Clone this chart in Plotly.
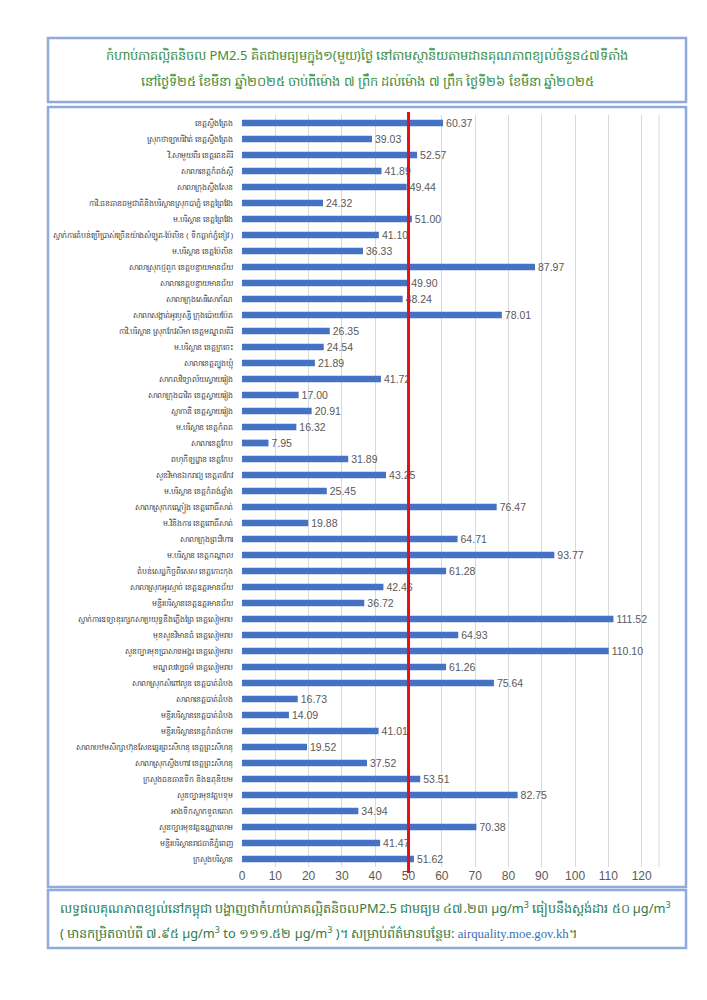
import plotly.graph_objects as go

stations = [
    "ខេត្តស្ទឹងត្រែង",
    "ស្រុកថាឡាបរិវ៉ាត់ ខេត្តស្ទឹងត្រែង",
    "វិ.សាមួយពីរ ខេត្តរតនគិរី",
    "សាលាខេត្តកំពង់ស្ពឺ",
    "សាលាក្រុងស្ទឹងសែន",
    "កាវិ.ធនធានធម្មជាតិនិងបរិស្ថានស្រុកបាភ្នំ ខេត្តព្រៃវែង",
    "ម.បរិស្ថាន ខេត្តព្រៃវែង",
    "ស្នាក់ការតំបន់ប្រើប្រាស់ច្រើនយ៉ាងសំឡូត-ប៉ៃលិន ( ទឹកធ្លាក់ភ្នំខៀវ )",
    "ម.បរិស្ថាន ខេត្តប៉ៃលិន",
    "សាលាស្រុកថ្មពួក ខេត្តបន្ទាយមានជ័យ",
    "សាលាខេត្តបន្ទាយមានជ័យ",
    "សាលាក្រុងសេរីសោភ័ណ",
    "សាលាសង្កាត់អូរឫស្សី ក្រុងប៉ោយប៉ែត",
    "កាវិ.បរិស្ថាន ស្រុកកែវសីមា ខេត្តមណ្ឌលគិរី",
    "ម.បរិស្ថាន ខេត្តក្រចេះ",
    "សាលាខេត្តត្បូងឃ្មុំ",
    "សាកលវិទ្យាល័យស្វាយរៀង",
    "សាលាក្រុងបាវិត ខេត្តស្វាយរៀង",
    "ស្លាកានី ខេត្តស្វាយរៀង",
    "ម.បរិស្ថាន ខេត្តកំពត",
    "សាលាខេត្តកែប",
    "ពហុកីឡដ្ឋាន ខេត្តកែប",
    "សួនវិមានឯករាជ្យ ខេត្តតាកែវ",
    "ម.បរិស្ថាន ខេត្តកំពង់ឆ្នាំង",
    "សាលាស្រុកកណ្តៀង ខេត្តពោធិ៍សាត់",
    "ម.វិនិងការ ខេត្តពោធិ៍សាត់",
    "សាលាក្រុងព្រះវិហារ",
    "ម.បរិស្ថាន ខេត្តកណ្តាល",
    "តំបន់សេដ្ឋកិច្ចពិសេស ខេត្តកោះកុង",
    "សាលាស្រុកអូរស្មាច់ ខេត្តឧត្តរមានជ័យ",
    "មន្ទីរបរិស្ថានខេត្តឧត្តរមានជ័យ",
    "ស្នាក់ការឧទ្យានុរក្សកសាប្រយុទ្ធនឹងភ្លើងព្រៃ ខេត្តសៀមរាប",
    "មុខសួនវិមានធំ ខេត្តសៀមរាប",
    "សួនច្បារមុខប្រាសាទអង្គរ ខេត្តសៀមរាប",
    "មណ្ឌលវប្បធម៌ ខេត្តសៀមរាប",
    "សាលាស្រុកសំពៅលូន ខេត្តបាត់ដំបង",
    "សាលាខេត្តបាត់ដំបង",
    "មន្ទីរបរិស្ថានខេត្តបាត់ដំបង",
    "មន្ទីរបរិស្ថានខេត្តកំពង់ចាម",
    "សាលាបឋមសិក្សាហ៊ុនសែនឆ្នេរព្រះសីហនុ ខេត្តព្រះសីហនុ",
    "សាលាស្រុកស្ទឹងហាវ ខេត្តព្រះសីហនុ",
    "ក្រសួងធនធានទឹក និងឧតុនិយម",
    "សួនច្បារមុខវត្តបទុម",
    "អាងទឹកស្លាកទួលគោក",
    "សួនច្បារមុខវត្តឧណ្ណាលោម",
    "មន្ទីរបរិស្ថានរាជធានីភ្នំពេញ",
    "ក្រសួងបរិស្ថាន",
]

pm25 = [
    60.37, 39.03, 52.57, 41.89, 49.44, 24.32, 51.00, 41.10, 36.33, 87.97,
    49.90, 48.24, 78.01, 26.35, 24.54, 21.89, 41.72, 17.00, 20.91, 16.32,
    7.95, 31.89, 43.25, 25.45, 76.47, 19.88, 64.71, 93.77, 61.28, 42.46,
    36.72, 111.52, 64.93, 110.10, 61.26, 75.64, 16.73, 14.09, 41.01, 19.52,
    37.52, 53.51, 82.75, 34.94, 70.38, 41.47, 51.62,
]

standard = 50
x_ticks = [0, 10, 20, 30, 40, 50, 60, 70, 80, 90, 100, 110, 120]

title_lines = [
    "កំហាប់ភាគល្អិតនិចល PM2.5 គិតជាមធ្យមក្នុង១(មួយ)ថ្ងៃ នៅតាមស្ថានីយតាមដានគុណភាពខ្យល់ចំនួន៤៧ទីតាំង",
    "នៅថ្ងៃទី២៥ ខែមីនា ឆ្នាំ២០២៥ ចាប់ពីម៉ោង ៧ ព្រឹក ដល់ម៉ោង ៧ ព្រឹក ថ្ងៃទី២៦ ខែមីនា ឆ្នាំ២០២៥",
]
footer_lines = [
    "លទ្ធផលគុណភាពខ្យល់នៅកម្ពុជា បង្ហាញថាកំហាប់ភាគល្អិតនិចលPM2.5 ជាមធ្យម ៤៧.២៣ µg/m<sup>3</sup> ធៀបនឹងស្តង់ដារ ៥០ µg/m<sup>3</sup>",
    "( មានកម្រិតចាប់ពី ៧.៩៥ µg/m<sup>3</sup> to ១១១.៥២ µg/m<sup>3</sup> )។ សម្រាប់ព័ត៌មានបន្ថែម: "
    "<span style='font-family:Liberation Serif;color:#3a6fb0'>airquality.moe.gov.kh</span>។",
]

# page has an 8px body margin; figure is placed at (8, 8)
OFF = 8
W, H = 707 - OFF, 1000 - OFF
L, R, T, B = 242, 659, 115, 867  # plot area in page pixels


def px(x):
    return (x - L) / (R - L)


def py(y):
    return (B - y) / (B - T)


fig = go.Figure()
fig.add_trace(go.Bar(
    x=pm25, y=stations, orientation="h",
    marker=dict(color="#4472C4", line=dict(width=0)),
    text=[f"{v:.2f}" for v in pm25], textposition="outside", constraintext="none",
    textfont=dict(size=10.5, color="#595959", family="Liberation Sans, Arial"),
    cliponaxis=False, width=0.42,
))

box_color = "#8FAADC"
shapes = [
    dict(type="rect", xref="paper", yref="paper", x0=px(48), x1=px(686), y0=py(102), y1=py(38),
         line=dict(color=box_color, width=2.5), layer="below"),
    dict(type="rect", xref="paper", yref="paper", x0=px(48), x1=px(686), y0=py(887), y1=py(107),
         line=dict(color=box_color, width=2.5), layer="below"),
    dict(type="rect", xref="paper", yref="paper", x0=px(48), x1=px(686), y0=py(948), y1=py(890),
         line=dict(color=box_color, width=2.5), layer="below"),
    dict(type="line", xref="paper", yref="paper", x0=1, x1=1, y0=0, y1=1,
         line=dict(color="#D9D9D9", width=1), layer="below"),
    dict(type="line", xref="x", yref="paper", x0=standard, x1=standard, y0=py(873), y1=py(112),
         line=dict(color="#E3101A", width=3)),
]

annotations = [
    dict(xref="paper", yref="paper", x=px(367), y=py(56), text=title_lines[0], showarrow=False,
         font=dict(size=13, color="#3C8C3C", family="Noto Sans, DejaVu Sans"), xanchor="center", yanchor="middle"),
    dict(xref="paper", yref="paper", x=px(367), y=py(81), text=title_lines[1], showarrow=False,
         font=dict(size=13, color="#3C8C3C", family="Noto Sans, DejaVu Sans"), xanchor="center", yanchor="middle"),
    dict(xref="paper", yref="paper", x=px(58), y=py(908), text=footer_lines[0], showarrow=False,
         font=dict(size=12.8, color="#2E7A45", family="Noto Sans, DejaVu Sans"), xanchor="left", yanchor="middle"),
    dict(xref="paper", yref="paper", x=px(58), y=py(932), text=footer_lines[1], showarrow=False,
         font=dict(size=12.8, color="#2E7A45", family="Noto Sans, DejaVu Sans"), xanchor="left", yanchor="middle"),
]

fig.update_layout(
    width=W, height=H,
    margin=dict(l=L - OFF, r=W + OFF - R, t=T - OFF, b=H + OFF - B, pad=0),
    paper_bgcolor="white", plot_bgcolor="white",
    showlegend=False, bargap=0.58,
    shapes=shapes, annotations=annotations,
    font=dict(family="Noto Sans, DejaVu Sans", color="#404040"),
    xaxis=dict(range=[0, 125.2], tickvals=x_ticks, showgrid=True, gridcolor="#D9D9D9", gridwidth=1,
               zeroline=False, showline=False, ticks="",
               tickfont=dict(size=12, color="#595959", family="Liberation Sans, Arial")),
    yaxis=dict(categoryorder="array", categoryarray=stations, autorange="reversed",
               showgrid=False, zeroline=False, showline=False, ticks="", ticklabelstandoff=8,
               tickfont=dict(size=7.8, color="#404040")),
)

fig.write_html("out.html")
